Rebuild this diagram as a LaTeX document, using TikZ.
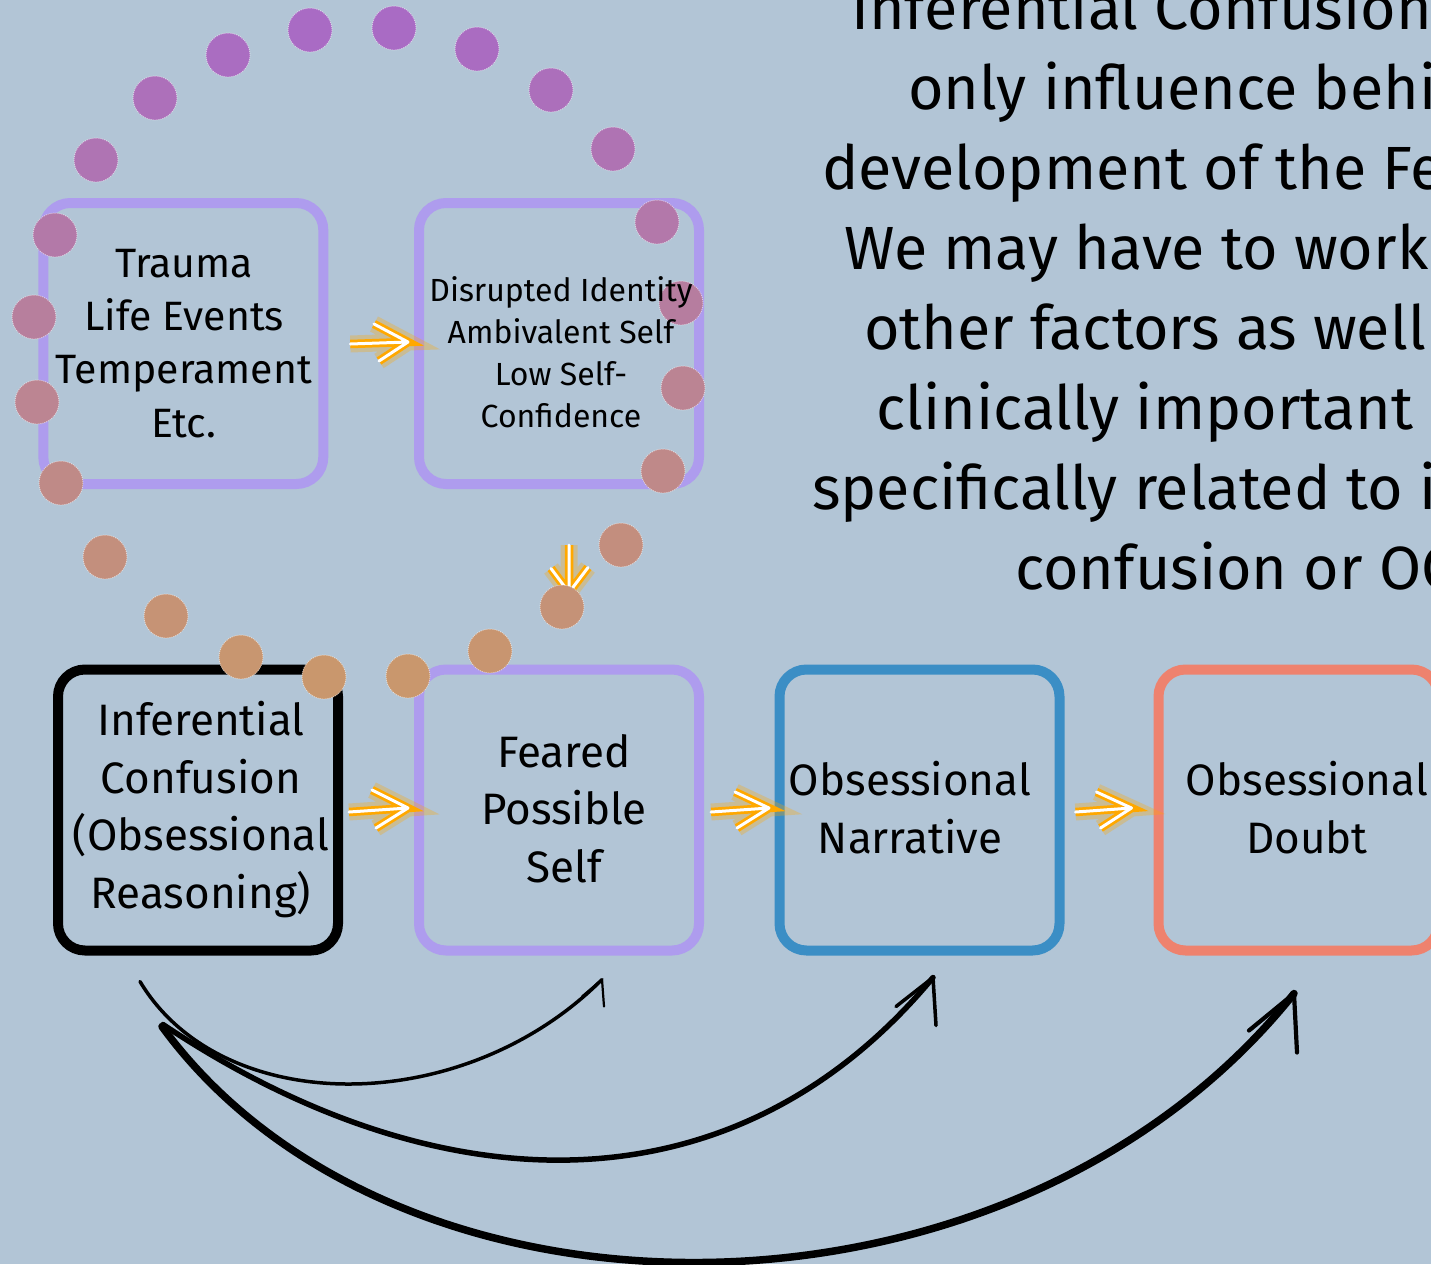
\documentclass[tikz,border=0pt]{standalone}
\usepackage{fontspec}
\setmainfont{Fira Sans}
\usetikzlibrary{calc}

\definecolor{bg}{RGB}{178,197,214}
\definecolor{lav}{RGB}{174,156,238}
\definecolor{blu}{RGB}{59,142,197}
\definecolor{sal}{RGB}{238,130,110}
\definecolor{dottop}{RGB}{169,107,196}
\definecolor{dotbot}{RGB}{201,151,109}
\definecolor{glowor}{RGB}{255,168,0}

\begin{document}
\begin{tikzpicture}[x=1pt,y=-1pt,
  box/.style={draw=#1, line width=10pt, rounded corners=27pt,
    minimum width=280pt, minimum height=281pt, inner sep=0pt, anchor=center},
  boxtext/.style={align=center, anchor=base, inner sep=0pt, text=black},
  sidetext/.style={anchor=base west, inner sep=0pt, text=black,
    font=\fontsize{61}{80}\selectfont},
  glow/.style={line cap=round, line join=round, draw=white, line width=3pt,
    preaction={draw=glowor, draw opacity=0.3, line width=17pt},
    preaction={draw=glowor, draw opacity=1, line width=8.5pt}},
  dot/.style={fill=#1, draw=white, draw opacity=0.55, line width=0.9pt,
    dash pattern=on 1pt off 1pt},
  curve/.style={draw=black, line cap=round, line join=round, line width=#1}
]
\useasboundingbox (0,0) rectangle (1431,1264);
\begin{scope}
\clip (0,0) rectangle (1431,1264);
\fill[bg] (0,0) rectangle (1431,1264);

% boxes
\node[box=lav] (A) at (183.3,343.5) {};
\node[box=lav] (B) at (559,343.5) {};
\node[box=black] (C) at (198,810) {};
\node[box=lav] (D) at (559,810) {};
\node[box=blu] (E) at (919.5,810) {};
\node[box=sal] (F) at (1298.5,810) {};

% curved connectors below the row
\coordinate (s1) at ($(C.south)+(-58,26)$);
\coordinate (s2) at ($(C.south)+(-35,69)$);
\coordinate (s3) at ($(C.south)+(-36,71)$);
\coordinate (t1) at ($(D.south)+(43,24)$);
\coordinate (t2) at ($(E.south)+(13.5,22)$);
\coordinate (t3) at ($(F.south)+(-4.5,38)$);
\coordinate (c1a) at ($(s1)+(82,137)$);
\coordinate (c1b) at ($(t1)+(-139,139)$);
\coordinate (c2a) at ($(s2)+(282,188)$);
\coordinate (c2b) at ($(t2)+(-195,235)$);
\coordinate (c3a) at ($(s3)+(234,320)$);
\coordinate (c3b) at ($(t3)+(-282,353)$);
\draw[curve=3.5pt] (s1) .. controls (c1a) and (c1b) .. (t1);
\draw[curve=2.2pt] (t1) ++(-20,17) -- (t1) -- ++(2,27);
\draw[curve=5.5pt] (s2) .. controls (c2a) and (c2b) .. (t2);
\draw[curve=3.5pt] (t2) ++(-37,29) -- (t2) -- ++(3,48);
\draw[curve=7.5pt] (s3) .. controls (c3a) and (c3b) .. (t3);
\draw[curve=4.2pt] (t3) ++(-45,37) -- (t3) -- ++(3,59);

% glowing arrows
\coordinate (ab1) at ($(A.east)+(22,0.5)$);
\coordinate (ab2) at ($(B.west)+(-6,-1.5)$);
\draw[glow] (ab1) -- (ab2) -- ++(-34,-18) (ab2) -- ++(-29,19);
\coordinate (cd1) at ($(C.east)+(6,2)$);
\coordinate (cd2) at ($(D.west)+(-6,-2)$);
\draw[glow] (cd1) -- (cd2) -- ++(-36,-18) (cd2) -- ++(-32,20);
\coordinate (de1) at ($(D.east)+(7,2)$);
\coordinate (de2) at ($(E.west)+(-5.5,-2)$);
\draw[glow] (de1) -- (de2) -- ++(-34,-16) (de2) -- ++(-32,20);
\coordinate (ef1) at ($(E.east)+(11,2)$);
\coordinate (ef2) at ($(F.west)+(-22,-2)$);
\draw[glow] (ef1) -- (ef2) -- ++(-35,-16) (ef2) -- ++(-31,20);
\coordinate (bd1) at ($(B.south)+(10,56)$);
\coordinate (bd2) at ($(D.north)+(10,-72)$);
\draw[glow] (bd1) -- (bd2) -- ++(-18,-24) (bd2) -- ++(19,-25);

% ring of dots
\foreach \px/\py/\p in {
  310/30/0, 394/28/0, 228/55/4, 477/49/3, 155/98/11, 551/90/10,
  96/160/20, 613/149/19, 55/235/32, 657/222/30, 34/317/45, 681/303/42,
  37/402/58, 683/388/56, 61/483/70, 663/471/68, 105/557/82, 621/545/80,
  166/616/91, 562/607/89, 241/657/97, 490/651/96, 324/677/100, 408/676/100}
  \path[dot=dotbot!\p!dottop] (\px,\py) circle[radius=22];

% box texts (anchored at the baseline of the last line)
\node[boxtext, font=\fontsize{41}{53.3}\selectfont] (Atxt) at (184,437)
  {Trauma\\Life Events\\Temperament\\Etc.};
\node[boxtext, font=\fontsize{32}{41.7}\selectfont] (Btxt) at (561,427)
  {Disrupted Identity\\Ambivalent Self\\Low Self-\\Confidence};
\node[boxtext, font=\fontsize{44}{57.5}\selectfont] (Ctxt) at (201,908)
  {Inferential\\Confusion\\(Obsessional\\Reasoning)};
\node[boxtext, font=\fontsize{44}{57.5}\selectfont] (Dtxt) at (564,882)
  {Feared\\Possible\\Self};
\node[boxtext, font=\fontsize{44}{57.5}\selectfont] (Etxt) at (910,853)
  {Obsessional\\Narrative};
\node[boxtext, font=\fontsize{44}{57.5}\selectfont] (Ftxt) at (1307,853)
  {Obsessional\\Doubt};

% side note
\node[sidetext] (r1) at (851,29) {Inferential Confusion};
\node[sidetext] (r2) at (908,109) {only influence behi};
\node[sidetext] (r3) at (822,189) {development of the Fe};
\node[sidetext] (r4) at (844,269) {We may have to work};
\node[sidetext] (r5) at (864,349) {other factors as well};
\node[sidetext] (r6) at (876,429) {clinically important b};
\node[sidetext] (r7) at (812,509) {specifically related to i};
\node[sidetext] (r8) at (1015,589) {confusion or OC};
\end{scope}
\end{tikzpicture}
\end{document}
